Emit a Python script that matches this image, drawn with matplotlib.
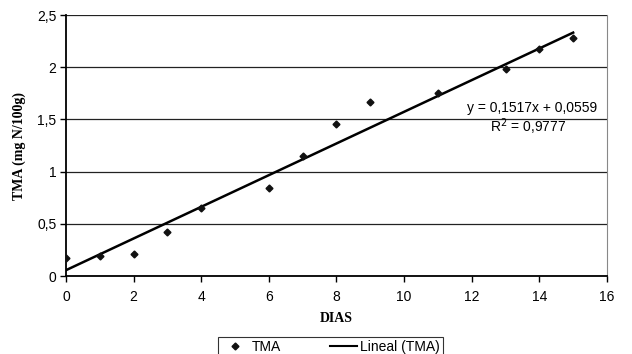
import numpy as np
import matplotlib
matplotlib.use("Agg")
import matplotlib.pyplot as plt
from matplotlib.lines import Line2D

plt.rcParams.update({"font.family": "Liberation Sans", "font.size": 10})

dias = [0, 1, 2, 3, 4, 6, 7, 8, 9, 11, 13, 14, 15]
tma = [0.17, 0.19, 0.21, 0.42, 0.65, 0.84, 1.15, 1.46, 1.67, 1.75, 1.98, 2.17, 2.28]
slope, intercept = 0.1517, 0.0559
xticks = [0, 2, 4, 6, 8, 10, 12, 14, 16]
yticks = [0, 0.5, 1, 1.5, 2, 2.5]
ylabels = ["0", "0,5", "1", "1,5", "2", "2,5"]

fig = plt.figure(figsize=(6.32, 3.54), dpi=100)
ax = fig.add_axes([0.1044, 0.2203, 0.856, 0.7373])

for y in yticks:
    ax.axhline(y, color="#222222", lw=0.9, zorder=1)

xf = np.array([0, 15])
ax.plot(xf, slope * xf + intercept, color="black", lw=1.8, zorder=3)
ax.plot(dias, tma, ls="none", marker="D", ms=3.5, color="#111111", zorder=4)

ax.set_xlim(0, 16)
ax.set_ylim(0, 2.5)
ax.set_xticks(xticks)
ax.set_yticks(yticks)
ax.set_yticklabels(ylabels)
ax.tick_params(axis="both", direction="out", length=4, width=1, labelsize=10, pad=3)
ax.tick_params(axis="x", pad=6)
ax.spines["top"].set_visible(False)
ax.spines["left"].set_linewidth(1.3)
ax.spines["bottom"].set_linewidth(1.3)
ax.spines["right"].set_color("#888888")
ax.spines["right"].set_linewidth(0.8)

ax.text(15.7, 1.61, "y = 0,1517x + 0,0559", ha="right", va="center", fontsize=10)
ax.text(13.67, 1.43, "R$^2$ = 0,9777", ha="center", va="center", fontsize=10)

ax.set_ylabel("TMA (mg N/100g)", family="Liberation Serif", fontweight="bold", fontsize=10, labelpad=8)
ax.set_xlabel("DIAS", family="Liberation Serif", fontweight="bold", fontsize=10, labelpad=6)

handles = [Line2D([], [], ls="none", marker="D", ms=3.5, color="#111111"),
           Line2D([], [], color="black", lw=1.5)]
leg = fig.legend(handles, ["TMA", "Lineal (TMA)"], loc="lower center", ncol=2,
                 bbox_to_anchor=(0.523, -0.02), frameon=True, fancybox=False,
                 edgecolor="black", fontsize=10, handlelength=2.0, columnspacing=3.5,
                 borderpad=0.2, borderaxespad=0.3, handletextpad=0.2)
leg.get_frame().set_linewidth(0.8)

fig.savefig("out.png", dpi=100)
